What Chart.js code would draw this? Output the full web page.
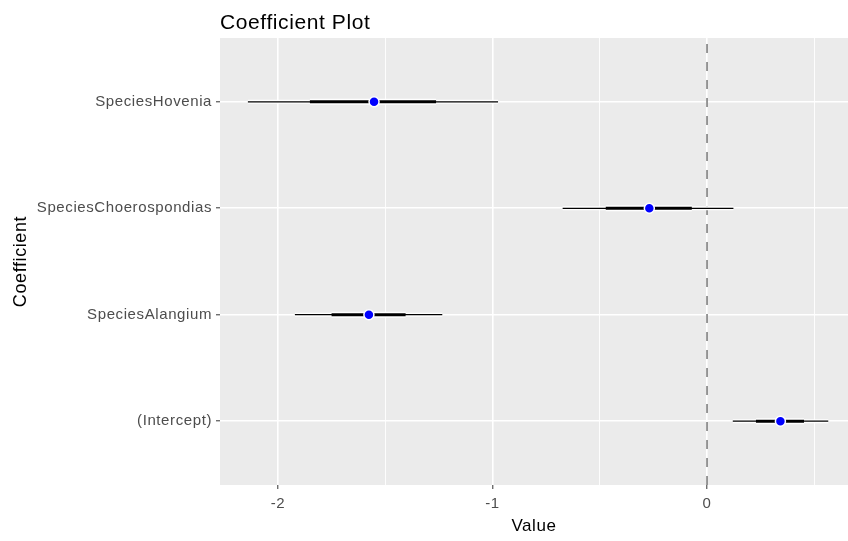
<!DOCTYPE html>
<html>
<head>
<meta charset="utf-8">
<script src="https://cdn.jsdelivr.net/npm/chart.js@4"></script>
<style>
  html, body { margin: 0; padding: 0; background: #fff; }
  #wrap { width: 848px; height: 541px; }
</style>
</head>
<body>
<div id="wrap"><canvas id="myChart"></canvas></div>
<script>
// coefficients, bottom to top
const coefficients = ['(Intercept)', 'SpeciesAlangium', 'SpeciesChoerospondias', 'SpeciesHovenia'];
const estimates = [0.342, -1.576, -0.269, -1.552];
const innerLow = [0.228, -1.750, -0.472, -1.851];
const innerHigh = [0.452, -1.405, -0.071, -1.263];
const outerLow = [0.120, -1.921, -0.673, -2.140];
const outerHigh = [0.565, -1.234, 0.123, -0.974];
const xTicks = [-2, -1, 0];
const xMinorTicks = [-1.5, -0.5, 0.5];

const FONT = "'Liberation Sans', Arial, sans-serif";

function segments(lo, hi) {
  const pts = [];
  lo.forEach((l, i) => {
    pts.push({x: l, y: i + 1}, {x: hi[i], y: i + 1}, {x: null, y: null});
  });
  return pts;
}

const panel = {
  id: 'panel',
  beforeDraw(chart) {
    const {ctx, chartArea: a} = chart;
    ctx.letterSpacing = '0.6px';
    ctx.save();
    ctx.fillStyle = '#EBEBEB';
    ctx.fillRect(a.left, a.top, a.right - a.left, a.bottom - a.top);
    ctx.restore();
  },
  afterDraw(chart) {
    const {ctx, chartArea: a} = chart;
    ctx.save();
    ctx.fillStyle = '#000';
    ctx.font = '21px ' + FONT;
    ctx.textBaseline = 'alphabetic';
    ctx.textAlign = 'left';
    ctx.fillText('Coefficient Plot', a.left, 29);
    ctx.restore();
  }
};

const lineDs = (data, color, width, order) => ({
  type: 'scatter',
  data: data,
  showLine: true,
  borderColor: color,
  borderWidth: width,
  borderCapStyle: 'butt',
  pointRadius: 0,
  pointHoverRadius: 0,
  order: order
});

const zeroLine = Object.assign(lineDs([{x: 0, y: 0.4}, {x: 0, y: 4.6}], '#7F7F7F', 1.6, 10), {borderDash: [9, 9]});

const ctx = document.getElementById('myChart').getContext('2d');
new Chart(ctx, {
  type: 'scatter',
  data: {
    datasets: [
      zeroLine,
      lineDs(segments(outerLow, outerHigh), '#FFFFFF', 4, 6),
      lineDs(segments(innerLow, innerHigh), '#FFFFFF', 6, 5),
      lineDs(segments(outerLow, outerHigh), '#000000', 1.3, 4),
      lineDs(segments(innerLow, innerHigh), '#000000', 3, 3),
      {
        data: estimates.map((v, i) => ({x: v, y: i + 1})),
        backgroundColor: '#0000FF',
        borderColor: '#FFFFFF',
        borderWidth: 1.5,
        pointRadius: 5,
        pointHoverRadius: 5,
        order: 0
      }
    ]
  },
  options: {
    responsive: true,
    maintainAspectRatio: false,
    animation: false,
    events: [],
    layout: { autoPadding: false, padding: { top: 38, right: 0, bottom: 0, left: 0 } },
    plugins: {
      legend: { display: false },
      tooltip: { enabled: false },
      title: { display: false }
    },
    scales: {
      x: {
        type: 'linear',
        min: -2.27,
        max: 0.657,
        afterBuildTicks: s => { s.ticks = xTicks.concat(xMinorTicks).sort((a, b) => a - b).map(v => ({value: v})); },
        afterFit: s => { s.height = 56; },
        border: { display: false },
        grid: {
          color: '#FFFFFF',
          lineWidth: c => Number.isInteger(c.tick.value) ? 1.6 : 0.9,
          tickColor: c => Number.isInteger(c.tick.value) ? '#333333' : 'rgba(0,0,0,0)',
          tickLength: 4,
          tickWidth: 1
        },
        ticks: {
          autoSkip: false,
          maxRotation: 0,
          padding: 6,
          color: '#4D4D4D',
          font: { family: FONT, size: 15 },
          callback: v => xTicks.includes(v) ? String(v) : ''
        },
        title: {
          display: true,
          text: 'Value',
          color: '#000',
          font: { family: FONT, size: 17 },
          padding: { top: 0, bottom: 4 }
        }
      },
      y: {
        type: 'linear',
        min: 0.4,
        max: 4.6,
        afterBuildTicks: s => { s.ticks = coefficients.map((c, i) => ({value: i + 1})); },
        afterFit: s => { s.width = 220; },
        border: { display: false },
        grid: {
          color: '#FFFFFF',
          lineWidth: 1.6,
          tickColor: '#333333',
          tickLength: 4,
          tickWidth: 1
        },
        ticks: {
          autoSkip: false,
          padding: 4,
          color: '#4D4D4D',
          font: { family: FONT, size: 15 },
          callback: v => coefficients[v - 1]
        },
        title: {
          display: true,
          text: 'Coefficient',
          color: '#000',
          font: { family: FONT, size: 18 },
          padding: { top: 10, bottom: 0 }
        }
      }
    }
  },
  plugins: [panel]
});
</script>
</body>
</html>
